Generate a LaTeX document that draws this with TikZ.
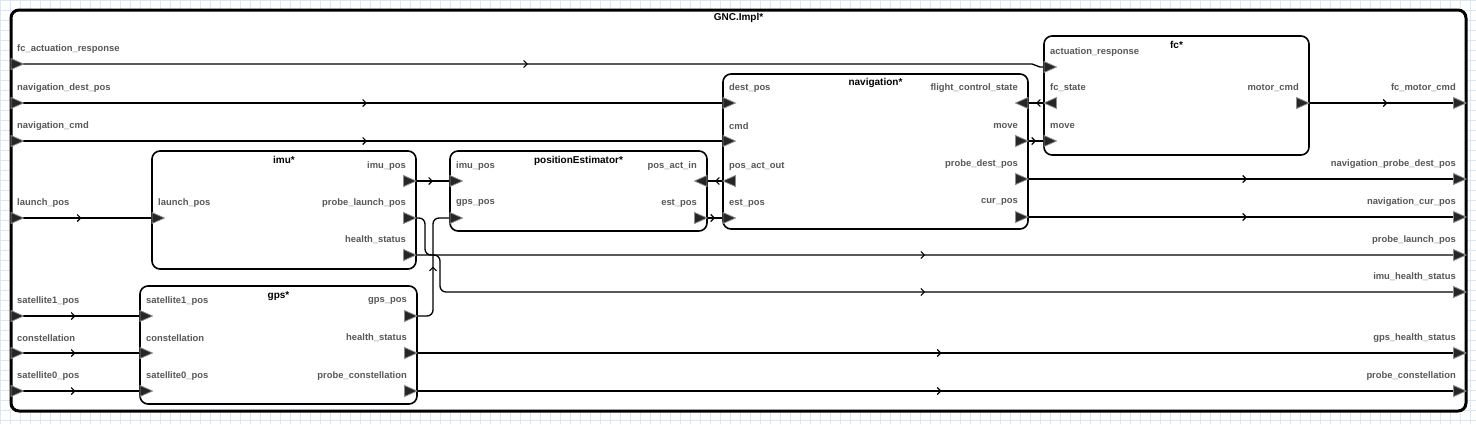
\documentclass[tikz,border=0pt]{standalone}
\usepackage{fontspec}
\setmainfont{Liberation Sans}
\usepackage{tikz}
\usetikzlibrary{arrows.meta,positioning,calc,decorations.markings}
\definecolor{gridblue}{RGB}{220,231,246}
\definecolor{labelgray}{RGB}{88,88,88}
\tikzset{
  blk/.style={draw, rectangle, line width=1.6pt, rounded corners=8pt, fill=white, inner sep=0pt},
  ttl/.style={font=\fontsize{10}{12}\selectfont\bfseries, inner sep=0pt},
  plab/.style={font=\fontsize{9.4}{11}\selectfont\bfseries, text=labelgray, inner sep=0pt},
  conn/.style={line width=1.3pt, rounded corners=6pt, postaction={decorate},
    decoration={markings, mark=at position 0.5 with {\arrow{Straight Barb[length=3.5pt,width=7pt,line width=1.1pt]}}}},
  port/.style={fill=black!85, draw=black!45, line width=0.8pt, line join=miter}
}

\begin{document}
\begin{tikzpicture}[x=1pt, y=-1pt]
    \useasboundingbox (0,0) rectangle (1476,424);
    \fill[white] (0,0) rectangle (1476,424);
    \draw[gridblue, line width=0.6pt, step=10pt] (0,0) grid (1476,424);

    % Outer component and its parts
    \node[blk, line width=3pt, minimum width=1455pt, minimum height=401pt] (gnc) at (738.5,210.5) {};
    \node[ttl, below=5pt of gnc.north] (gnc-t) {GNC.Impl*};

    \node[blk, minimum width=264pt, minimum height=118pt] (imu) at (284,210) {};
    \node[ttl, below=6pt of imu.north] (imu-t) {imu*};

    \node[blk, minimum width=257pt, minimum height=80pt] (pe) at (578.5,191) {};
    \node[ttl, below=6pt of pe.north] (pe-t) {positionEstimator*};

    \node[blk, minimum width=305pt, minimum height=155pt] (nav) at (875.5,151.5) {};
    \node[ttl, below=5pt of nav.north] (nav-t) {navigation*};

    \node[blk, minimum width=265pt, minimum height=119pt] (fc) at (1176.5,95.5) {};
    \node[ttl, below=6pt of fc.north] (fc-t) {fc*};

    \node[blk, minimum width=277pt, minimum height=118pt] (gps) at (278.5,345) {};
    \node[ttl, below=6pt of gps.north] (gps-t) {gps*};

    % Ports
    \coordinate (ext-far) at (11,64);
    \coordinate (ext-ndp) at (11,103);
    \coordinate (ext-ncmd) at (11,141);
    \coordinate (ext-lp) at (11,218);
    \coordinate (ext-s1) at (11,316);
    \coordinate (ext-con) at (11,353);
    \coordinate (ext-s0) at (11,391);
    \coordinate (ext-fmc) at (1466,103);
    \coordinate (ext-npdp) at (1466,179);
    \coordinate (ext-ncur) at (1466,217);
    \coordinate (ext-plp) at (1466,255);
    \coordinate (ext-ihs) at (1466,292);
    \coordinate (ext-ghs) at (1466,353);
    \coordinate (ext-pc) at (1466,391);

    \coordinate (imu-lp) at (152,218);
    \coordinate (imu-pos) at (416,181);
    \coordinate (imu-plp) at (416,218);
    \coordinate (imu-hs) at (416,255);

    \coordinate (pe-imu) at (450,181);
    \coordinate (pe-gps) at (450,218);
    \coordinate (pe-pai) at (707,181);
    \coordinate (pe-est) at (707,218);

    \coordinate (nav-dest) at (723,103);
    \coordinate (nav-cmd) at (723,141);
    \coordinate (nav-pao) at (723,181);
    \coordinate (nav-est) at (723,218);
    \coordinate (nav-fcs) at (1028,103);
    \coordinate (nav-move) at (1028,141);
    \coordinate (nav-pdp) at (1028,179);
    \coordinate (nav-cur) at (1028,217);

    \coordinate (fc-act) at (1044,67);
    \coordinate (fc-fcs) at (1044,103);
    \coordinate (fc-move) at (1044,141);
    \coordinate (fc-mc) at (1309,103);

    \coordinate (gps-s1) at (140,316);
    \coordinate (gps-con) at (140,353);
    \coordinate (gps-s0) at (140,391);
    \coordinate (gps-pos) at (417,316);
    \coordinate (gps-hs) at (417,353);
    \coordinate (gps-pc) at (417,391);

    % Connections
    \draw[conn, sharp corners] (ext-far) -- ++(1021,0) to[out=0,in=180] ++(8,3) -- (fc-act);
    \draw[conn] (ext-ndp) -- (nav-dest);
    \draw[conn] (ext-ncmd) -- (nav-cmd);
    \draw[conn] (ext-lp) -- (imu-lp);
    \draw[conn] (ext-s1) -- (gps-s1);
    \draw[conn] (ext-con) -- (gps-con);
    \draw[conn] (ext-s0) -- (gps-s0);
    \draw[conn] (imu-pos) -- (pe-imu);
    \draw[conn] (imu-plp) -- ++(9,0) |- (ext-plp);
    \draw[conn] (imu-hs) -- ++(24,0) |- (ext-ihs);
    \draw[conn] (gps-pos) -- ++(16,0) |- (pe-gps);
    \draw[conn] (nav-pao) -- (pe-pai);
    \draw[conn] (pe-est) -- (nav-est);
    \draw[conn] (nav-move) -- (fc-move);
    \draw[conn] (fc-fcs) -- (nav-fcs);
    \draw[conn] (fc-mc) -- (ext-fmc);
    \draw[conn] (nav-pdp) -- (ext-npdp);
    \draw[conn] (nav-cur) -- (ext-ncur);
    \draw[conn] (gps-hs) -- (ext-ghs);
    \draw[conn] (gps-pc) -- (ext-pc);

    % Port triangles
    \foreach \p in {ext-far,ext-ndp,ext-ncmd,ext-lp,ext-s1,ext-con,ext-s0,imu-lp,pe-imu,pe-gps,nav-dest,nav-cmd,nav-est,fc-act,fc-move,gps-s1,gps-con,gps-s0}
        \filldraw[port] (\p) ++(0,-5.5) -- ++(12.5,5.5) -- ++(-12.5,5.5) -- cycle;
    \foreach \p in {ext-fmc,ext-npdp,ext-ncur,ext-plp,ext-ihs,ext-ghs,ext-pc,imu-pos,imu-plp,imu-hs,pe-est,nav-move,nav-pdp,nav-cur,fc-mc,gps-pos,gps-hs,gps-pc}
        \filldraw[port] (\p) ++(-12.5,-5.5) -- ++(12.5,5.5) -- ++(-12.5,5.5) -- cycle;
    \foreach \p in {pe-pai,nav-fcs}
        \filldraw[port] (\p) ++(0,-5.5) -- ++(-12.5,5.5) -- ++(12.5,5.5) -- cycle;
    \foreach \p in {nav-pao,fc-fcs}
        \filldraw[port] (\p) ++(12.5,-5.5) -- ++(-12.5,5.5) -- ++(12.5,5.5) -- cycle;

    % Port labels
    \foreach \p/\txt in {ext-far/fc\_actuation\_response, ext-ndp/navigation\_dest\_pos, ext-ncmd/navigation\_cmd,
        ext-lp/launch\_pos, ext-s1/satellite1\_pos, ext-con/constellation, ext-s0/satellite0\_pos,
        imu-lp/launch\_pos, pe-imu/imu\_pos, pe-gps/gps\_pos, nav-dest/dest\_pos, nav-cmd/cmd,
        nav-pao/pos\_act\_out, nav-est/est\_pos, fc-act/actuation\_response, fc-fcs/fc\_state, fc-move/move,
        gps-s1/satellite1\_pos, gps-con/constellation, gps-s0/satellite0\_pos}
        \node[plab, anchor=west] (\p-l) at ($(\p)+(6,-15)$) {\txt};
    \foreach \p/\txt in {ext-fmc/fc\_motor\_cmd, ext-npdp/navigation\_probe\_dest\_pos, ext-ncur/navigation\_cur\_pos,
        ext-plp/probe\_launch\_pos, ext-ihs/imu\_health\_status, ext-ghs/gps\_health\_status, ext-pc/probe\_constellation,
        imu-pos/imu\_pos, imu-plp/probe\_launch\_pos, imu-hs/health\_status, pe-pai/pos\_act\_in, pe-est/est\_pos,
        nav-fcs/flight\_control\_state, nav-move/move, nav-pdp/probe\_dest\_pos, nav-cur/cur\_pos, fc-mc/motor\_cmd,
        gps-pos/gps\_pos, gps-hs/health\_status, gps-pc/probe\_constellation}
        \node[plab, anchor=east] (\p-l) at ($(\p)+(-10,-15)$) {\txt};
\end{tikzpicture}
\end{document}
